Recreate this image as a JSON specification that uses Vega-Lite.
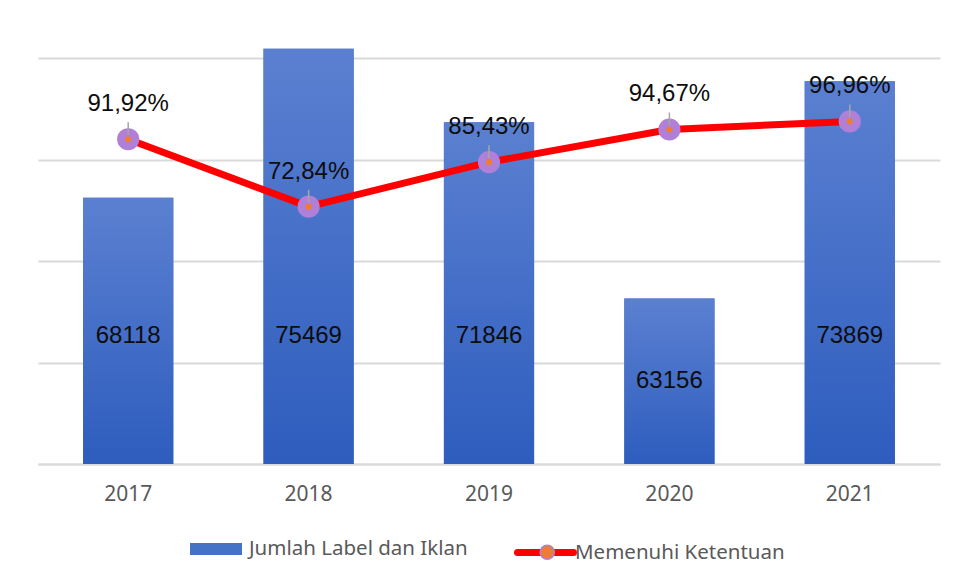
{
  "$schema": "https://vega.github.io/schema/vega-lite/v6.json",
  "width": 902,
  "height": 424,
  "padding": {"left": 38, "top": 40, "right": 16, "bottom": 0},
  "background": "white",
  "config": {
    "view": {"stroke": null},
    "locale": {"number": {"decimal": ",", "thousands": ".", "grouping": [3], "currency": ["", ""]}},
    "legend": {"labelFont": "Noto Sans", "labelFontSize": 20.5, "labelColor": "#595959", "title": null, "labelLimit": 400}
  },
  "data": {
    "values": [
      {"year": "2017", "jumlah": 68118, "memenuhi": 0.9192},
      {"year": "2018", "jumlah": 75469, "memenuhi": 0.7284},
      {"year": "2019", "jumlah": 71846, "memenuhi": 0.8543},
      {"year": "2020", "jumlah": 63156, "memenuhi": 0.9467},
      {"year": "2021", "jumlah": 73869, "memenuhi": 0.9696}
    ]
  },
  "transform": [
    {"calculate": "min((datum.jumlah + 55000) / 2, 61300)", "as": "labelPos"}
  ],
  "resolve": {"scale": {"y": "independent"}},
  "layer": [
    {
      "mark": {"type": "bar"},
      "encoding": {
        "x": {
          "field": "year", "type": "nominal",
          "scale": {"paddingInner": 0.5, "paddingOuter": 0.25},
          "axis": {"title": null, "labelAngle": 0, "ticks": false, "domainColor": "#d9d9d9", "domainWidth": 2,
                   "labelFont": "Noto Sans", "labelFontSize": 21, "labelColor": "#595959", "labelPadding": 19}
        },
        "y": {
          "field": "jumlah", "type": "quantitative",
          "scale": {"domain": [55000, 75900], "zero": false, "nice": false},
          "axis": {"title": null, "labels": false, "ticks": false, "domain": false, "values": [55000, 60000, 65000, 70000, 75000],
                   "gridColor": "#d9d9d9", "gridWidth": 2}
        },
        "y2": {"datum": 55000},
        "fill": {
          "datum": "Jumlah Label dan Iklan",
          "scale": {"range": ["#4472c4"]},
          "legend": {"orient": "none", "legendX": 152, "legendY": 483, "symbolType": "M-1,-0.23H1V0.23H-1Z",
                     "symbolSize": 2704, "labelOffset": 7, "symbolStrokeWidth": 0}
        }
      }
    },
    {
      "mark": {"type": "bar", "color": {"x1": 0, "y1": 0, "x2": 0, "y2": 1, "gradient": "linear",
               "stops": [{"offset": 0, "color": "#5b80d1"}, {"offset": 1, "color": "#2e5dbe"}]}},
      "encoding": {
        "x": {"field": "year", "type": "nominal"},
        "y": {"field": "jumlah", "type": "quantitative", "scale": {"domain": [55000, 75900], "zero": false, "nice": false}, "axis": null},
        "y2": {"datum": 55000}
      }
    },
    {
      "mark": {"type": "text", "font": "Liberation Sans", "fontSize": 24, "color": "#0d0d0d", "baseline": "middle"},
      "encoding": {
        "x": {"field": "year", "type": "nominal"},
        "y": {"field": "labelPos", "type": "quantitative", "scale": {"domain": [55000, 75900], "zero": false, "nice": false}, "axis": null},
        "text": {"field": "jumlah", "type": "quantitative", "format": "d"}
      }
    },
    {
      "mark": {"type": "line", "strokeWidth": 7, "strokeCap": "round", "strokeJoin": "round"},
      "encoding": {
        "x": {"field": "year", "type": "nominal"},
        "y": {"field": "memenuhi", "type": "quantitative", "scale": {"domain": [0, 1.2], "zero": true, "nice": false}, "axis": null},
        "stroke": {
          "datum": "Memenuhi Ketentuan",
          "scale": {"range": ["#ff0000"]},
          "legend": {"orient": "none", "legendX": 476, "legendY": 481, "symbolType": "stroke", "symbolSize": 3136,
                     "symbolStrokeWidth": 7, "labelOffset": -2,
                     "encode": {"symbols": {"update": {"strokeCap": {"value": "round"}}}}}
        }
      }
    },
    {
      "mark": {"type": "point", "shape": "circle", "filled": true, "fill": "#ed7d31", "stroke": "#b07fd8", "strokeWidth": 8, "size": 201, "opacity": 1},
      "encoding": {
        "x": {"field": "year", "type": "nominal"},
        "y": {"field": "memenuhi", "type": "quantitative", "scale": {"domain": [0, 1.2], "zero": true, "nice": false}, "axis": null},
        "shape": {
          "datum": "marker",
          "scale": {"range": ["circle"]},
          "legend": {"orient": "none", "legendX": 499, "legendY": 502, "labelExpr": "''", "symbolSize": 201,
                     "encode": {"symbols": {"update": {"fill": {"value": "#ed7d31"}, "stroke": {"value": "#b07fd8"},
                                                       "strokeWidth": {"value": 8}, "opacity": {"value": 1}, "fillOpacity": {"value": 1}, "strokeOpacity": {"value": 1}}}}}
        }
      }
    },
    {
      "mark": {"type": "point", "shape": "M0,-0.25L0,-1", "filled": false, "stroke": "#a6a6a6", "strokeWidth": 1.5, "size": 1156, "opacity": 1},
      "encoding": {
        "x": {"field": "year", "type": "nominal"},
        "y": {"field": "memenuhi", "type": "quantitative", "scale": {"domain": [0, 1.2], "zero": true, "nice": false}, "axis": null}
      }
    },
    {
      "mark": {"type": "text", "font": "Liberation Sans", "fontSize": 24, "color": "#0d0d0d", "baseline": "middle", "dy": -35},
      "encoding": {
        "x": {"field": "year", "type": "nominal"},
        "y": {"field": "memenuhi", "type": "quantitative", "scale": {"domain": [0, 1.2], "zero": true, "nice": false}, "axis": null},
        "text": {"field": "memenuhi", "type": "quantitative", "format": ".2%"}
      }
    }
  ]
}
